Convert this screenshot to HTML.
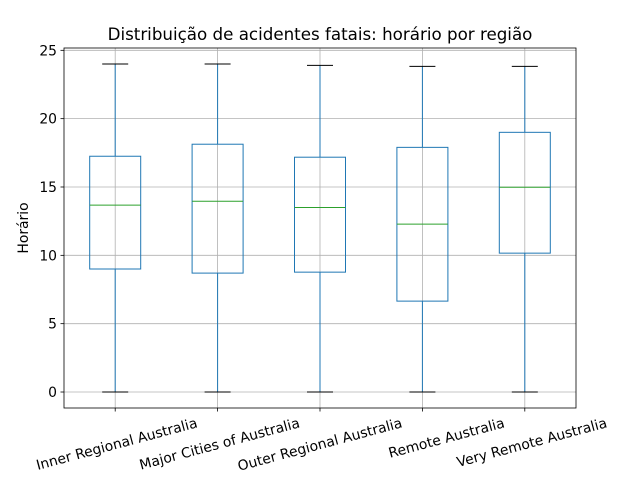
<!DOCTYPE html>
<html><head><meta charset="utf-8"><style>
body{margin:0;background:#fff}
svg{display:block;font-family:"DejaVu Sans","Liberation Sans",sans-serif}
</style></head><body>
<svg id="chart" width="640" height="480"></svg>
<script>
const categories=["Inner Regional Australia","Major Cities of Australia","Outer Regional Australia","Remote Australia","Very Remote Australia"];
const whiskerLow=[0,0,0,0,0];
const q1=[9.0,8.7,8.77,6.65,10.16];
const median=[13.67,13.96,13.5,12.28,14.98];
const q3=[17.25,18.13,17.18,17.9,19.0];
const whiskerHigh=[24,24,23.9,23.83,23.83];
const yTicks=[0,5,10,15,20,25];

const NS="http://www.w3.org/2000/svg";
const svg=document.getElementById('chart');
const L=64,R=576,T=48,B=408;
const yMin=-1.17,yMax=25.17;
const y=v=>B-(v-yMin)/(yMax-yMin)*(B-T);
const step=(R-L)/categories.length;
const x=i=>L+step*(i+0.5);
function el(tag,attrs,parent){const e=document.createElementNS(NS,tag);for(const k in attrs)e.setAttribute(k,attrs[k]);(parent||svg).appendChild(e);return e;}

yTicks.forEach(t=>{
  const g=el('line',{x1:L,x2:R,y1:y(t),y2:y(t),stroke:'#b0b0b0','stroke-width':0.8});
  
  
});
categories.forEach((c,i)=>{
  const g=el('line',{x1:x(i),x2:x(i),y1:T,y2:B,stroke:'#b0b0b0','stroke-width':0.8});
  
  
});

const bw=51,cw=26;
categories.forEach((c,i)=>{
  const g=el('g',{});
  
  
  const cx=x(i),s='#1f77b4';
  el('line',{x1:cx,x2:cx,y1:y(q1[i]),y2:y(whiskerLow[i]),stroke:s},g);
  el('line',{x1:cx,x2:cx,y1:y(q3[i]),y2:y(whiskerHigh[i]),stroke:s},g);
  el('line',{x1:cx-cw/2,x2:cx+cw/2,y1:y(whiskerLow[i]),y2:y(whiskerLow[i]),stroke:'#000'},g);
  el('line',{x1:cx-cw/2,x2:cx+cw/2,y1:y(whiskerHigh[i]),y2:y(whiskerHigh[i]),stroke:'#000'},g);
  el('rect',{x:cx-bw/2,y:y(q3[i]),width:bw,height:y(q1[i])-y(q3[i]),fill:'none',stroke:s},g);
  el('line',{x1:cx-bw/2,x2:cx+bw/2,y1:y(median[i]),y2:y(median[i]),stroke:'#2ca02c'},g);
});

const f=el('rect',{x:L,y:T,width:R-L,height:B-T,fill:'none',stroke:'#000','stroke-width':0.8});



yTicks.forEach(t=>{
  el('line',{x1:L-3.5,x2:L,y1:y(t),y2:y(t),stroke:'#000','stroke-width':0.8});
  const tx=el('text',{x:L-7,y:y(t)+5,'text-anchor':'end','font-size':13.9});
  tx.textContent=t;
  
  
});
categories.forEach((c,i)=>{
  el('line',{x1:x(i),x2:x(i),y1:B,y2:B+3.5,stroke:'#000','stroke-width':0.8});
  const tx=el('text',{x:0,y:0,'text-anchor':'end','font-size':13.9,transform:`translate(${x(i)+83},${B+19}) rotate(-15)`});
  tx.textContent=c;
  
  
});

const title=el('text',{x:(L+R)/2,y:40,'text-anchor':'middle','font-size':16.7});
title.textContent='Distribuição de acidentes fatais: horário por região';


const yl=el('text',{x:0,y:0,'text-anchor':'middle','font-size':13.9,transform:`translate(28,${(T+B)/2}) rotate(-90)`});
yl.textContent='Horário';


</script>
</body></html>
